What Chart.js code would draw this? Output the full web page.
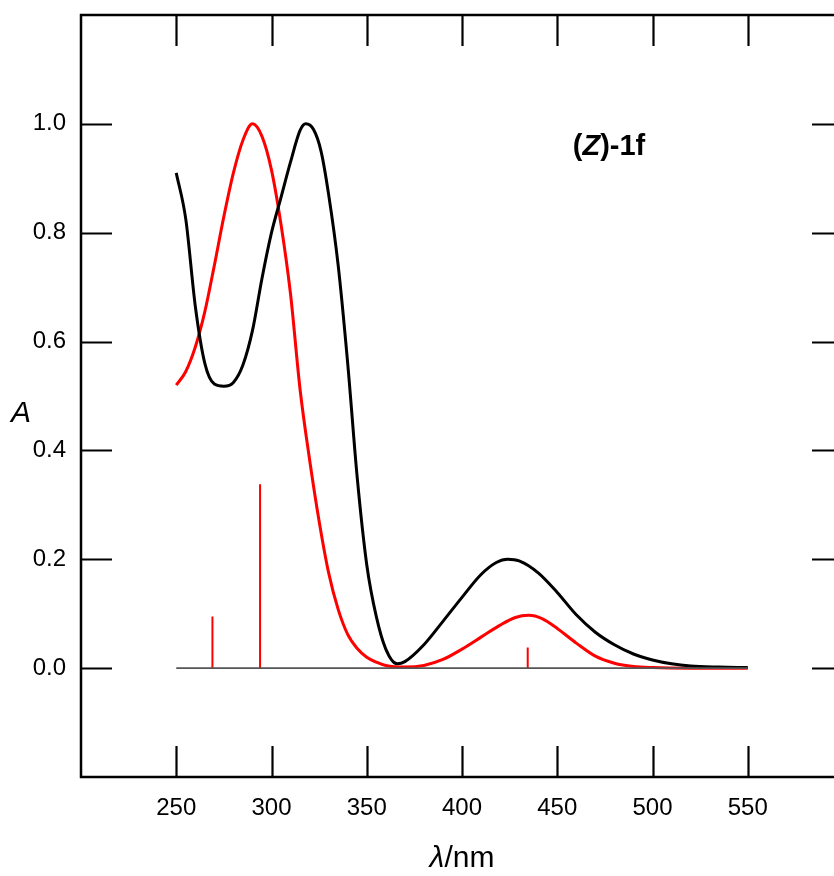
<!DOCTYPE html>
<html lang="en">
<head>
  <meta charset="UTF-8">
  <title>(Z)-1f absorption spectrum</title>
  <script src="https://cdn.jsdelivr.net/npm/chart.js"></script>
  <style>
    html, body {
      margin: 0;
      padding: 0;
      background: #fff;
      overflow: hidden;
    }

    #chartContainer {
      position: absolute;
      left: 0;
      top: 0;
      width: 870px;   /* frame runs a little past the right edge of the window */
      height: 876px;
    }
  </style>
</head>
<body>

  <div id="chartContainer">
    <canvas id="specChart"></canvas>
  </div>

  <script>
    // experimental spectrum (black)
    const expWavelengths = [250, 255, 260, 265, 270, 275, 280, 285, 290, 295, 300, 305, 310, 315, 318, 322, 326, 330, 335, 340,
      345, 350, 355, 360, 366, 370, 380, 390, 400, 410, 418, 424, 430, 440, 450, 460, 470, 480, 490, 500, 510, 520, 535, 550];
    const expAbs = [0.91, 0.825, 0.665, 0.56, 0.522, 0.518, 0.525, 0.557, 0.62, 0.716, 0.80, 0.865, 0.93, 0.988, 1.0, 0.99, 0.95, 0.87, 0.74, 0.56,
      0.35, 0.19, 0.095, 0.035, 0.008, 0.012, 0.043, 0.086, 0.13, 0.172, 0.194, 0.20, 0.197, 0.175, 0.139, 0.098, 0.066, 0.043, 0.026, 0.015, 0.008, 0.004, 0.002, 0.001];

    // calculated spectrum (red)
    const calcWavelengths = [250, 255, 260, 265, 270, 275, 280, 285, 290, 295, 300, 305, 310, 315, 320, 325, 330, 335, 340, 345,
      350, 355, 360, 370, 380, 390, 400, 410, 420, 428, 435, 442, 450, 460, 470, 480, 490, 500, 520, 550];
    const calcAbs = [0.52, 0.545, 0.59, 0.655, 0.74, 0.83, 0.91, 0.97, 1.0, 0.977, 0.915, 0.815, 0.687, 0.512, 0.383, 0.27, 0.175, 0.108, 0.062, 0.036,
      0.02, 0.011, 0.005, 0.002, 0.005, 0.016, 0.035, 0.057, 0.079, 0.093, 0.097, 0.091, 0.073, 0.046, 0.022, 0.009, 0.003, 0.001, 0, 0];

    // calculated transitions (oscillator strengths)
    const stickWavelengths = [269, 294, 434.5];
    const stickStrengths = [0.095, 0.338, 0.038];

    const xTickValues = [250, 300, 350, 400, 450, 500, 550];
    const yTickValues = [0.0, 0.2, 0.4, 0.6, 0.8, 1.0];
    const baselineRange = [250, 550];

    const FONT = "'Liberation Sans', Arial, sans-serif";

    const toPoints = (xs, ys) => xs.map((x, i) => ({ x: x, y: ys[i] }));

    // each stick goes 0 -> strength, then a null point breaks the line
    const stickPoints = [];
    stickWavelengths.forEach((wl, i) => {
      stickPoints.push({ x: wl, y: 0 }, { x: wl, y: stickStrengths[i] }, { x: wl, y: null });
    });

    const TICK_LEN = 31;

    const framePlugin = {
      id: 'framePlugin',
      afterDraw(chart) {
        const ctx = chart.ctx;
        const area = chart.chartArea;
        const xs = chart.scales.x;
        const ys = chart.scales.y;

        ctx.save();
        ctx.strokeStyle = '#000';
        ctx.lineWidth = 2.5;
        ctx.lineCap = 'butt';
        ctx.strokeRect(area.left, area.top, area.right - area.left, area.bottom - area.top);

        // inward tick marks on all four sides
        ctx.lineWidth = 2.2;
        ctx.beginPath();
        xTickValues.forEach(v => {
          const px = Math.round(xs.getPixelForValue(v)) + 0.5;
          ctx.moveTo(px, area.top);
          ctx.lineTo(px, area.top + TICK_LEN);
          ctx.moveTo(px, area.bottom);
          ctx.lineTo(px, area.bottom - TICK_LEN);
        });
        yTickValues.forEach(v => {
          const py = Math.round(ys.getPixelForValue(v)) + 0.5;
          ctx.moveTo(area.left, py);
          ctx.lineTo(area.left + TICK_LEN, py);
          ctx.moveTo(area.right, py);
          ctx.lineTo(area.right - TICK_LEN, py);
        });
        ctx.stroke();

        ctx.fillStyle = '#000';
        ctx.textBaseline = 'alphabetic';

        // compound label: (Z)-1f with italic Z
        const parts = [
          { t: '(', f: 'bold 29px ' + FONT },
          { t: 'Z', f: 'italic bold 29px ' + FONT },
          { t: ')-1f', f: 'bold 29px ' + FONT }
        ];
        drawRuns(ctx, parts, 609, 155);

        // x axis title
        const xCenter = xs.getPixelForValue(400);
        drawRuns(ctx, [
          { t: 'λ', f: 'italic 30px ' + FONT },
          { t: '/nm', f: '30px ' + FONT }
        ], xCenter, 867);

        // y axis title
        ctx.font = 'italic 30px ' + FONT;
        ctx.textAlign = 'left';
        ctx.fillText('A', 11, 422);

        ctx.restore();
      }
    };

    function drawRuns(ctx, runs, cx, baseline) {
      let total = 0;
      runs.forEach(r => { ctx.font = r.f; total += ctx.measureText(r.t).width; });
      let x = cx - total / 2;
      ctx.textAlign = 'left';
      runs.forEach(r => {
        ctx.font = r.f;
        ctx.fillText(r.t, x, baseline);
        x += ctx.measureText(r.t).width;
      });
    }

    // keep tick labels from pushing the plot area inward
    function noLabelPadding(scale) {
      scale.paddingTop = 0;
      scale.paddingBottom = 0;
      scale.paddingLeft = 0;
      scale.paddingRight = 0;
    }

    const ctx = document.getElementById('specChart').getContext('2d');

    const config = {
      type: 'line',
      data: {
        datasets: [
          {
            label: 'baseline',
            data: baselineRange.map(x => ({ x: x, y: 0 })),
            borderColor: '#555',
            borderWidth: 1.6,
            pointRadius: 0
          },
          {
            label: 'transitions',
            data: stickPoints,
            borderColor: '#ff0000',
            borderWidth: 2,
            pointRadius: 0,
            spanGaps: false
          },
          {
            label: 'experimental',
            data: toPoints(expWavelengths, expAbs),
            borderColor: '#000',
            borderWidth: 3,
            pointRadius: 0,
            cubicInterpolationMode: 'monotone'
          },
          {
            label: 'calculated',
            data: toPoints(calcWavelengths, calcAbs),
            borderColor: '#ff0000',
            borderWidth: 3,
            pointRadius: 0,
            cubicInterpolationMode: 'monotone'
          }
        ]
      },
      options: {
        responsive: true,
        maintainAspectRatio: false,
        animation: false,
        layout: {
          autoPadding: false,
          padding: { top: 15, right: 27, left: 0, bottom: 0 }
        },
        plugins: {
          legend: { display: false },
          tooltip: { enabled: false }
        },
        scales: {
          x: {
            type: 'linear',
            min: 200,
            max: 600,
            grid: { display: false },
            border: { display: false },
            afterBuildTicks: scale => { scale.ticks = xTickValues.map(v => ({ value: v })); },
            afterFit: scale => { scale.height = 99; noLabelPadding(scale); },
            ticks: {
              maxRotation: 0,
              padding: 9,
              color: '#000',
              font: { family: FONT, size: 24 },
              callback: v => String(v)
            }
          },
          y: {
            min: -0.2,
            max: 1.2,
            grid: { display: false },
            border: { display: false },
            afterBuildTicks: scale => { scale.ticks = yTickValues.map(v => ({ value: v })); },
            afterFit: scale => { scale.width = 81; noLabelPadding(scale); },
            ticks: {
              padding: 7,
              color: '#000',
              font: { family: FONT, size: 24 },
              callback: v => Number(v).toFixed(1)
            }
          }
        }
      },
      plugins: [framePlugin]
    };

    const chart = new Chart(ctx, config);
  </script>

</body>
</html>
